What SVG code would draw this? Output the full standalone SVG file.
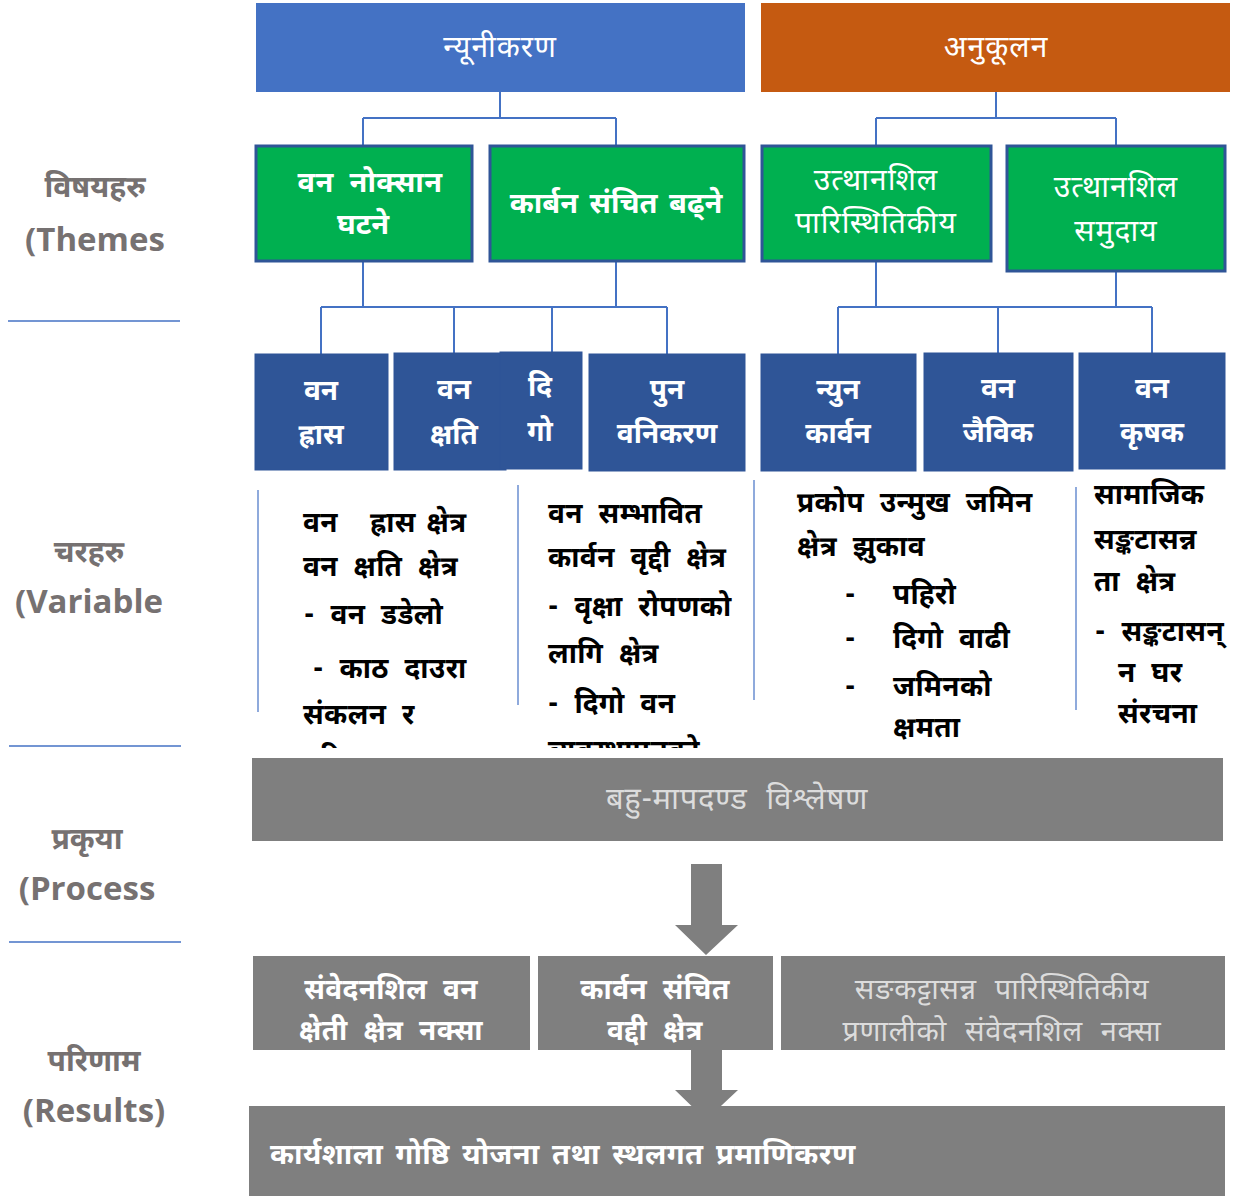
<svg xmlns="http://www.w3.org/2000/svg" width="1237" height="1197" viewBox="0 0 1237 1197">
<defs>
<style>
.dv{font-family:"Noto Sans Devanagari","Noto Sans","Lohit Devanagari","Noto Sans CJK SC",sans-serif}
.b{font-weight:bold}
.wt{fill:#ffffff}
.lt{fill:#dcdcdc}
.bk{fill:#000000}
.ws{word-spacing:8px;letter-spacing:0.4px}
.wr{word-spacing:10px;letter-spacing:0.6px}
.lbl{font-family:"Open Sans","Noto Sans Devanagari","Noto Sans",sans-serif;font-weight:bold;fill:#767171}
.conn{stroke:#4472C4;stroke-width:2;fill:none}
.thin{stroke:#8FAADC;stroke-width:2;fill:none}
.green{fill:#00B050;stroke:#2F5597;stroke-width:3}
.navy{fill:#2F5597;stroke:#2F5597;stroke-width:1}
.gray{fill:#7F7F7F}
.sep{stroke:#4472C4;stroke-width:1.5}
</style>
<clipPath id="varclip"><rect x="250" y="475" width="987" height="273"/></clipPath>
</defs>

<!-- left labels -->
<g id="labels">
<text class="lbl" x="95" y="197" font-size="30" text-anchor="middle">विषयहरु</text>
<text class="lbl" x="95" y="251" font-size="33" text-anchor="middle">(Themes</text>
<line class="sep" x1="8" y1="321" x2="180" y2="321"/>
<text class="lbl" x="89" y="562" font-size="30" text-anchor="middle">चरहरु</text>
<text class="lbl" x="89" y="613" font-size="33" text-anchor="middle">(Variable</text>
<line class="sep" x1="9" y1="746" x2="181" y2="746"/>
<text class="lbl" x="87" y="849" font-size="30" text-anchor="middle">प्रकृया</text>
<text class="lbl" x="87" y="900" font-size="33" text-anchor="middle">(Process</text>
<line class="sep" x1="9" y1="942" x2="181" y2="942"/>
<text class="lbl" x="94" y="1071" font-size="30" text-anchor="middle">परिणाम</text>
<text class="lbl" x="94" y="1122" font-size="33" text-anchor="middle">(Results)</text>
</g>

<!-- connectors -->
<g id="connectors">
<path class="conn" d="M500 92 V118 M363 118 H616 M363 118 V145 M616 118 V145"/>
<path class="conn" d="M996 92 V118 M876 118 H1116 M876 118 V145 M1116 118 V145"/>
<path class="conn" d="M363 261 V307 M616 261 V307 M321 307 H667 M321 307 V354 M454 307 V353 M552 307 V352 M667 307 V354"/>
<path class="conn" d="M876 261 V307 M1116 271 V307 M838 307 H1152 M838 307 V354 M998 307 V353 M1152 307 V353"/>
<path class="thin" d="M258 490 V712 M518 485 V705 M754 480 V700 M1076 487 V710"/>
<path class="gray" d="M691 864 H722 V925 H738 L706 955 L675 925 H691 Z"/>
<path class="gray" d="M691 1050 H722 V1090 H738 L706 1120 L675 1090 H691 Z"/>
</g>

<!-- top themes -->
<g id="mitigation">
<rect x="256" y="3" width="489" height="89" fill="#4472C4"/>
<text class="dv wt" x="500" y="57" font-size="30" letter-spacing="1" text-anchor="middle">न्यूनीकरण</text>
</g>
<g id="adaptation">
<rect x="761" y="3" width="469" height="89" fill="#C55A11"/>
<text class="dv wt" x="996" y="57" font-size="30" letter-spacing="1" text-anchor="middle">अनुकूलन</text>
</g>

<!-- green themes -->
<g id="theme1">
<rect class="green" x="256" y="146" width="216" height="115"/>
<text class="dv b wt ws" x="370" y="192" font-size="29" text-anchor="middle">वन नोक्सान</text>
<text class="dv b wt" x="363" y="234" font-size="29" text-anchor="middle">घटने</text>
</g>
<g id="theme2">
<rect class="green" x="490" y="146" width="254" height="115"/>
<text class="dv b wt" x="616" y="213" font-size="29" word-spacing="4" text-anchor="middle">कार्बन संचित बढ्ने</text>
</g>
<g id="theme3">
<rect class="green" x="762" y="146" width="229" height="115"/>
<text class="dv wt" x="876" y="190" font-size="30" letter-spacing="1" text-anchor="middle">उत्थानशिल</text>
<text class="dv wt" x="876" y="233" font-size="30" letter-spacing="1" text-anchor="middle">पारिस्थितिकीय</text>
</g>
<g id="theme4">
<rect class="green" x="1007" y="146" width="218" height="125"/>
<text class="dv wt" x="1116" y="197" font-size="30" letter-spacing="1" text-anchor="middle">उत्थानशिल</text>
<text class="dv wt" x="1116" y="241" font-size="30" letter-spacing="1" text-anchor="middle">समुदाय</text>
</g>

<!-- variable boxes -->
<g id="var1">
<rect class="navy" x="255" y="354" width="133" height="116"/>
<text class="dv b wt" x="321" y="400" font-size="28" text-anchor="middle">वन</text>
<text class="dv b wt" x="321" y="444" font-size="28" text-anchor="middle">ह्रास</text>
</g>
<g id="var2">
<rect class="navy" x="394" y="353" width="112" height="117"/>
<text class="dv b wt" x="454" y="399" font-size="28" text-anchor="middle">वन</text>
<text class="dv b wt" x="454" y="444" font-size="28" text-anchor="middle">क्षति</text>
</g>
<g id="var3">
<rect class="navy" x="500" y="352" width="82" height="117"/>
<text class="dv b wt" x="540" y="396" font-size="28" text-anchor="middle">दि</text>
<text class="dv b wt" x="540" y="441" font-size="28" text-anchor="middle">गो</text>
</g>
<g id="var4">
<rect class="navy" x="589" y="354" width="156" height="117"/>
<text class="dv b wt" x="667" y="399" font-size="28" text-anchor="middle">पुन</text>
<text class="dv b wt" x="667" y="443" font-size="28" text-anchor="middle">वनिकरण</text>
</g>
<g id="var5">
<rect class="navy" x="761" y="354" width="155" height="117"/>
<text class="dv b wt" x="838" y="399" font-size="28" text-anchor="middle">न्युन</text>
<text class="dv b wt" x="838" y="443" font-size="28" text-anchor="middle">कार्वन</text>
</g>
<g id="var6">
<rect class="navy" x="924" y="353" width="149" height="118"/>
<text class="dv b wt" x="998" y="398" font-size="28" text-anchor="middle">वन</text>
<text class="dv b wt" x="998" y="442" font-size="28" text-anchor="middle">जैविक</text>
</g>
<g id="var7">
<rect class="navy" x="1079" y="353" width="146" height="116"/>
<text class="dv b wt" x="1152" y="398" font-size="28" text-anchor="middle">वन</text>
<text class="dv b wt" x="1152" y="442" font-size="28" text-anchor="middle">कृषक</text>
</g>

<!-- variable descriptions -->
<g id="desc1" clip-path="url(#varclip)">
<text class="dv b bk ws" font-size="28" xml:space="preserve"><tspan x="303" y="532" style="word-spacing:3px">वन   ह्रास क्षेत्र</tspan><tspan x="303" y="576">वन क्षति क्षेत्र</tspan><tspan x="304" y="624">- वन डडेलो</tspan><tspan x="313" y="678">- काठ दाउरा</tspan><tspan x="303" y="724">संकलन र</tspan><tspan x="303" y="768">परिमाण</tspan></text>
</g>
<g id="desc2" clip-path="url(#varclip)">
<text class="dv b bk ws" font-size="28"><tspan x="548" y="523">वन सम्भावित</tspan><tspan x="548" y="567">कार्वन वृद्दी क्षेत्र</tspan><tspan x="548" y="616">- वृक्षा रोपणको</tspan><tspan x="548" y="663">लागि क्षेत्र</tspan><tspan x="548" y="713">- दिगो वन</tspan><tspan x="548" y="760">व्यवस्थापनको</tspan></text>
</g>
<g id="desc3">
<text class="dv b bk ws" font-size="28"><tspan x="797" y="512">प्रकोप उन्मुख जमिन</tspan><tspan x="797" y="556">क्षेत्र झुकाव</tspan></text>
<text class="dv b bk" font-size="28"><tspan x="845" y="604">-</tspan><tspan x="845" y="648">-</tspan><tspan x="845" y="696">-</tspan></text>
<text class="dv b bk ws" font-size="28"><tspan x="893" y="604">पहिरो</tspan><tspan x="893" y="648">दिगो वाढी</tspan><tspan x="893" y="696">जमिनको</tspan><tspan x="893" y="737">क्षमता</tspan></text>
</g>
<g id="desc4">
<text class="dv b bk ws" font-size="28"><tspan x="1094" y="504">सामाजिक</tspan><tspan x="1094" y="549">सङ्कटासन्न</tspan><tspan x="1094" y="591">ता क्षेत्र</tspan><tspan x="1095" y="641">- सङ्कटासन्</tspan><tspan x="1118" y="682">न घर</tspan><tspan x="1118" y="723">संरचना</tspan></text>
</g>

<!-- process -->
<g id="process">
<rect class="gray" x="252" y="758" width="971" height="83"/>
<text class="dv lt wr" x="737" y="809" font-size="31" text-anchor="middle">बहु-मापदण्ड विश्लेषण</text>
</g>

<!-- results -->
<g id="result1">
<rect class="gray" x="253" y="956" width="277" height="94"/>
<text class="dv b wt ws" x="391" y="999" font-size="28" text-anchor="middle">संवेदनशिल वन</text>
<text class="dv b wt ws" x="391" y="1040" font-size="28" text-anchor="middle">क्षेती क्षेत्र नक्सा</text>
</g>
<g id="result2">
<rect class="gray" x="538" y="956" width="235" height="94"/>
<text class="dv b wt ws" x="655" y="999" font-size="28" text-anchor="middle">कार्वन संचित</text>
<text class="dv b wt ws" x="655" y="1040" font-size="28" text-anchor="middle">वद्दी क्षेत्र</text>
</g>
<g id="result3">
<rect class="gray" x="781" y="956" width="444" height="94"/>
<text class="dv lt wr" x="1002" y="999" font-size="29" text-anchor="middle">सङकट्टासन्न पारिस्थितिकीय</text>
<text class="dv lt wr" x="1002" y="1041" font-size="29" text-anchor="middle">प्रणालीको संवेदनशिल नक्सा</text>
</g>

<g id="final">
<rect class="gray" x="249" y="1106" width="976" height="90"/>
<text class="dv b wt" x="270" y="1164" font-size="29" style="word-spacing:4.5px;letter-spacing:0.4px">कार्यशाला गोष्ठि योजना तथा स्थलगत प्रमाणिकरण</text>
</g>
</svg>
